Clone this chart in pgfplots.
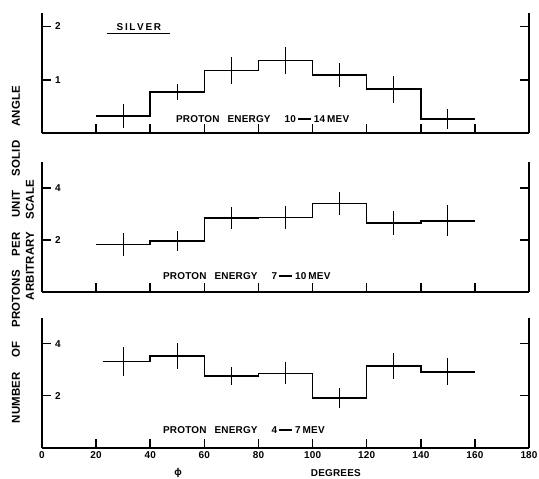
\documentclass[border=0pt]{standalone}
\usepackage{fontspec}
\setmainfont{Liberation Sans}[LetterSpace=2]
\usepackage{pgfplots}
\pgfplotsset{compat=1.18}

\newcommand{\lett}{\fontsize{10}{12}\selectfont\bfseries}
\newcommand{\ylett}{\fontsize{11.5}{12}\selectfont\bfseries}
\newcommand{\dash}{\kern2bp\rule[2.6bp]{13bp}{1.5bp}\kern3bp}
\newcommand{\gap}{\hspace{14bp}}

\pgfplotsset{
  panel/.style={
    scale only axis, width=487bp,
    xmin=0, xmax=180, ymin=0,
    axis x line*=bottom, axis y line=box,
    axis line style={line width=1.7bp},
    tick align=inside, major tick length=9bp,
    every tick/.style={black, line width=1.5bp},
    xtick={0,20,...,180},
    yticklabel pos=left,
    /pgf/number format/assume math mode=true,
    ticklabel style={font=\lett},
    yticklabel style={anchor=west, inner sep=0pt, xshift=13bp},
    xticklabel style={anchor=north, inner sep=0pt, yshift=-4bp},
    clip=false,
  },
  hist/.style={black, line width=1.6bp, const plot, mark=none},
  errs/.style={black, draw=none, mark=none,
    error bars/.cd, y dir=both, y explicit, error mark=none,
    error bar style={line width=1.3bp, solid}},
}

\begin{document}
\begin{tikzpicture}[x=1bp,y=1bp]
\useasboundingbox (0,0) rectangle (539,479);

% top panel: 10-14 MeV
\begin{axis}[panel, at={(42bp,345.7bp)}, anchor=south west, height=120.3bp,
  ymax=2.25, ytick={1,2}, xticklabels={}]
\addplot[hist] coordinates {(20,0.325) (40,0.77) (60,1.175) (80,1.36) (100,1.09) (120,0.825) (140,0.27) (160,0.27)};
\addplot[errs] coordinates {(30,0.325) +- (0,0.22) (50,0.77) +- (0,0.15) (70,1.175) +- (0,0.26) (90,1.36) +- (0,0.25) (110,1.09) +- (0,0.23) (130,0.825) +- (0,0.25) (150,0.27) +- (0,0.19)};
\node[anchor=west, inner sep=0pt, font=\lett] at (axis cs:49.5,0.27) {PROTON\hspace{8bp}ENERGY\hspace{14bp}10\dash14\hspace{2bp}MEV};
\node[inner sep=0pt, font=\lett] at (axis cs:35.8,1.99) {S\,I\,L\,V\,E\,R};
\draw[line width=1.2bp] (axis cs:24,1.86) -- (axis cs:47.3,1.86);
\end{axis}

% middle panel: 7-10 MeV
\begin{axis}[panel, at={(42bp,187bp)}, anchor=south west, height=130bp,
  ymax=5, ytick={2,4}, xticklabels={}]
\addplot[hist] coordinates {(20,1.83) (40,1.96) (60,2.84) (80,2.87) (100,3.41) (120,2.65) (140,2.74) (160,2.74)};
\addplot[errs] coordinates {(30,1.83) +- (0,0.45) (50,1.96) +- (0,0.37) (70,2.84) +- (0,0.42) (90,2.87) +- (0,0.44) (110,3.41) +- (0,0.45) (130,2.65) +- (0,0.45) (150,2.74) +- (0,0.59)};
\node[anchor=west, inner sep=0pt, font=\lett] at (axis cs:44.7,0.61) {PROTON\hspace{8bp}ENERGY\hspace{14bp}7\dash10\hspace{2bp}MEV};
\end{axis}

% bottom panel: 4-7 MeV
\begin{axis}[panel, at={(42bp,31.3bp)}, anchor=south west, height=130bp,
  ymax=5, ytick={2,4}]
\addplot[hist] coordinates {(22.5,3.32) (40,3.53) (60,2.76) (80,2.86) (100,1.91) (120,3.15) (140,2.92) (160,2.92)};
\addplot[errs] coordinates {(30,3.32) +- (0,0.56) (50,3.53) +- (0,0.5) (70,2.76) +- (0,0.36) (90,2.86) +- (0,0.42) (110,1.91) +- (0,0.38) (130,3.15) +- (0,0.51) (150,2.92) +- (0,0.52)};
\node[anchor=west, inner sep=0pt, font=\lett] at (axis cs:44.7,0.68) {PROTON\hspace{8bp}ENERGY\hspace{14bp}4\dash7\hspace{2bp}MEV};
\node[inner sep=0pt, font=\lett] at (axis cs:50.3,-0.97) {ϕ};
\node[inner sep=0pt, font=\lett] at (axis cs:108.6,-0.97) {DEGREES};
\end{axis}

\node[rotate=90, inner sep=0pt, font=\ylett] at (16,224.5) {NUMBER\gap OF\gap PROTONS\gap PER\gap UNIT\gap SOLID\gap ANGLE};
\node[rotate=90, inner sep=0pt, font=\ylett] at (30,239) {ARBITRARY\hspace{12bp}SCALE};
\end{tikzpicture}
\end{document}
